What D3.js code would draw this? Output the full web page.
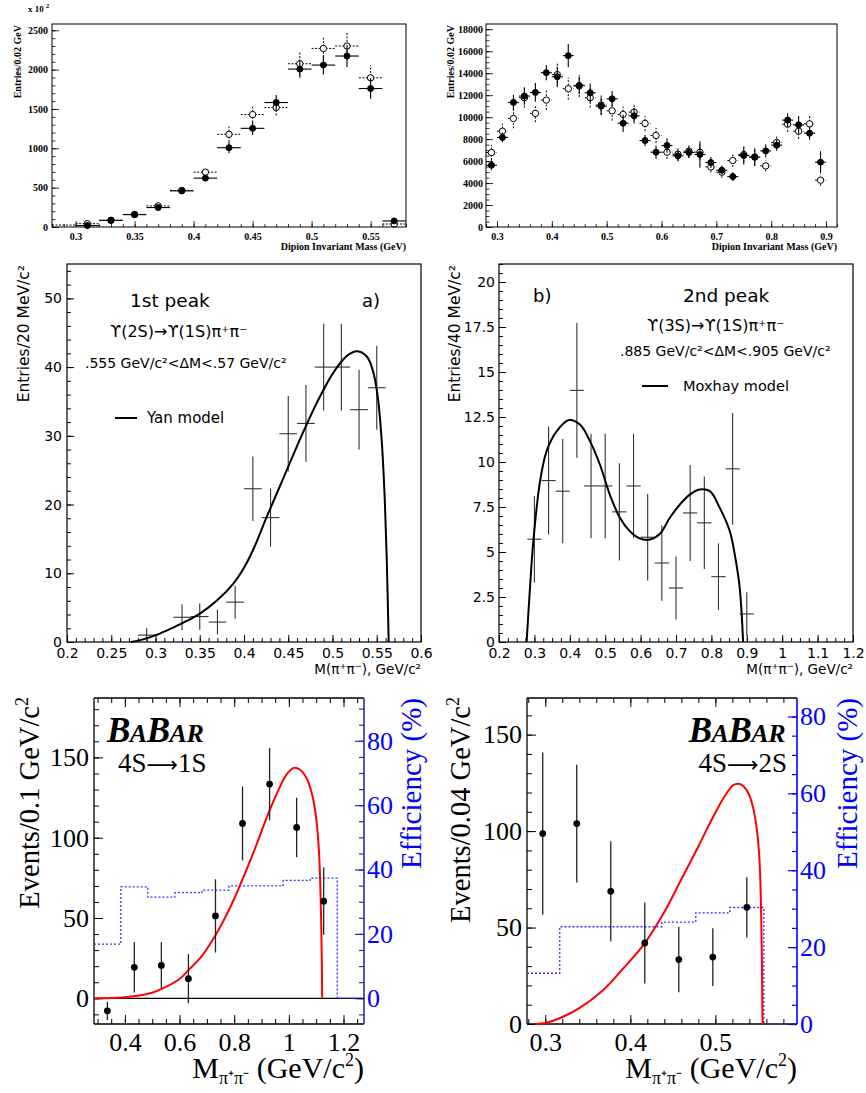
<!DOCTYPE html>
<html><head><meta charset="utf-8">
<script src="https://cdn.jsdelivr.net/npm/d3@7"></script>
<style>html,body{margin:0;padding:0;background:#fff}svg{display:block}</style>
</head><body>
<svg id="chart" width="866" height="1093" xmlns="http://www.w3.org/2000/svg"></svg>
<script>
// ================= DATA =================
// Top-left: dipion invariant mass (x10^2 entries / 0.02 GeV)
const p1Mass      = [0.29,0.31,0.33,0.35,0.37,0.39,0.41,0.43,0.45,0.47,0.49,0.51,0.53,0.55,0.57];
const p1Solid     = [null,18,85,157,247,459,621,1008,1254,1582,2007,2058,2173,1760,77];
const p1SolidErr  = [0,8,12,15,20,25,35,70,85,95,110,120,140,130,15];
const p1Open      = [25,42,85,160,268,465,697,1178,1429,1518,2075,2270,2300,1896,38];
const p1OpenErr   = [0,10,14,18,22,28,45,100,100,100,150,155,170,160,15];
const p1YTicks = [0,500,1000,1500,2000,2500];
const p1YLabels = ["0","500","1000","1500","2000","2500"];
const p1XTicks = [0.3,0.35,0.4,0.45,0.5,0.55];
const p1XLabels = ["0.3","0.35","0.4","0.45","0.5","0.55"];

// Top-right: dipion invariant mass (entries / 0.02 GeV)
const p2Mass = [0.29,0.31,0.33,0.35,0.37,0.39,0.41,0.43,0.45,0.47,0.49,0.51,0.53,0.55,0.57,0.59,0.61,0.63,0.65,0.67,0.69,0.71,0.73,0.75,0.77,0.79,0.81,0.83,0.85,0.87,0.89];
const p2Solid = [5620,8150,11340,11920,12250,14050,13680,15600,12890,12220,11000,11670,9450,10120,7870,6810,7420,6480,6780,6600,5870,5170,4590,6500,6350,6930,7450,9730,9300,8540,5900];
const p2SolidErr = [450,450,700,800,850,700,900,1050,800,850,800,700,800,700,500,600,650,500,500,1200,500,400,400,800,800,600,500,600,800,600,1000];
const p2Open = [6780,8720,9880,11770,10340,11550,13870,12590,12830,11770,11100,10580,10250,10460,9430,8330,6810,6630,6900,6810,5470,4990,6050,6600,6380,5560,7690,9360,8720,9390,4260];
const p2OpenErr = [700,700,900,900,800,900,1100,1000,1000,900,900,900,700,800,700,700,600,600,600,700,500,500,600,700,800,500,600,700,700,750,500];
const p2YTicks = [0,2000,4000,6000,8000,10000,12000,14000,16000,18000];
const p2YLabels = ["0","2000","4000","6000","8000","10000","12000","14000","16000","18000"];
const p2XTicks = [0.3,0.4,0.5,0.6,0.7,0.8,0.9];
const p2XLabels = ["0.3","0.4","0.5","0.6","0.7","0.8","0.9"];

// Middle-left: 1st peak, Yan model
const p3Mass    = [0.29,0.33,0.35,0.37,0.39,0.41,0.43,0.45,0.47,0.49,0.51,0.53,0.55];
const p3Entries = [1.0,3.6,3.7,2.9,5.8,22.3,18.1,30.3,31.8,40.0,40.0,33.8,37.0];
const p3Err     = [1.0,1.9,1.9,1.8,2.4,4.7,4.25,5.5,5.6,6.3,6.3,5.8,6.1];
const p3CurveX  = [0.272,0.285,0.302,0.32,0.336,0.351,0.37,0.388,0.40,0.411,0.426,0.445,0.464,0.483,0.501,0.516,0.528,0.539,0.546,0.551,0.5555,0.5588,0.5612,0.5635];
const p3CurveY  = [0,0.35,1.07,2.1,3.1,4.2,6.1,8.5,10.8,13.6,18.3,24.0,29.7,35.0,39.2,41.6,42.3,41.5,39.3,35.8,29.5,21.5,12.5,0];
const p3XTicks = [0.2,0.25,0.3,0.35,0.4,0.45,0.5,0.55,0.6];
const p3XLabels = ["0.2","0.25","0.3","0.35","0.4","0.45","0.5","0.55","0.6"];
const p3YTicks = [0,10,20,30,40,50];
const p3YLabels = ["0","10","20","30","40","50"];

// Middle-right: 2nd peak, Moxhay model
const p4Mass    = [0.30,0.34,0.38,0.42,0.46,0.50,0.54,0.58,0.62,0.66,0.70,0.74,0.78,0.82,0.86,0.90];
const p4Entries = [5.71,8.97,8.38,13.98,8.67,8.67,7.23,8.67,5.82,4.39,3.0,7.17,6.62,3.63,9.62,1.56];
const p4Err     = [2.4,3.0,2.9,3.75,2.9,2.9,2.7,2.9,2.4,2.1,1.75,2.67,2.57,1.85,3.1,1.2];
const p4CurveX  = [0.278,0.2875,0.297,0.3157,0.3345,0.3627,0.3976,0.4286,0.457,0.485,0.513,0.5415,0.5697,0.598,0.626,0.654,0.6826,0.711,0.739,0.767,0.7955,0.8237,0.852,0.866,0.880,0.8896];
const p4CurveY  = [0,3.0,5.6,8.9,10.6,11.7,12.33,12.08,11.16,9.86,8.19,6.9,6.15,5.75,5.69,6.0,6.9,7.64,8.19,8.47,8.38,7.45,6.15,4.86,3.0,0];
const p4XTicks = [0.2,0.3,0.4,0.5,0.6,0.7,0.8,0.9,1.0,1.1,1.2];
const p4XLabels = ["0.2","0.3","0.4","0.5","0.6","0.7","0.8","0.9","1","1.1","1.2"];
const p4YTicks = [0,2.5,5,7.5,10,12.5,15,17.5,20];
const p4YLabels = ["0","2.5","5","7.5","10","12.5","15","17.5","20"];

// Bottom-left: BaBar 4S->1S
const p5Mass   = [0.336,0.4345,0.5335,0.6325,0.7315,0.8305,0.9295,1.0285,1.1275];
const p5Events = [-7.8,19.3,20.5,12.2,51.3,108.9,133.4,106.4,60.5];
const p5Err    = [5.7,15.7,14.5,15.3,22.8,23,22.5,18.5,21];
const p5EffEdges = [0.287,0.385,0.484,0.583,0.682,0.781,0.880,0.979,1.078,1.177,1.275];
const p5Eff      = [16.8,34.6,31.4,32.8,33.6,34.9,34.9,36.6,37.3,0,0];
const p5CurveX = [0.287,0.35,0.44,0.50,0.537,0.60,0.635,0.68,0.72,0.76,0.80,0.84,0.88,0.92,0.96,0.99,1.018,1.04,1.065,1.085,1.10,1.11,1.116,1.12,1.122];
const p5CurveY = [0,0.2,1.5,3.5,6.0,12,18,26,36,48,62,78,95,113,129,139,143.5,142.5,137,127,112,92,65,30,0];
const p5XTicks = [0.4,0.6,0.8,1.0,1.2];
const p5XLabels = ["0.4","0.6","0.8","1","1.2"];
const p5YTicks = [0,50,100,150];
const p5YLabels = ["0","50","100","150"];
const p5EffTicks = [0,20,40,60,80];
const p5EffLabels = ["0","20","40","60","80"];

// Bottom-right: BaBar 4S->2S
const p6Mass   = [0.297,0.337,0.377,0.417,0.457,0.497,0.537];
const p6Events = [98.7,103.9,68.8,42.0,33.4,34.7,60.5];
const p6Err    = [42,30.5,26,21,17,15,15.6];
const p6EffEdges = [0.2785,0.317,0.357,0.397,0.437,0.477,0.517,0.557,0.596];
const p6Eff      = [13.2,25.3,25.3,25.3,26.5,28.9,30.3,0,0];
const p6CurveX = [0.288,0.30,0.3176,0.34,0.3686,0.39,0.4157,0.44,0.46,0.48,0.49,0.50,0.508,0.515,0.521,0.527,0.533,0.539,0.545,0.549,0.552,0.554,0.5555];
const p6CurveY = [0,0.5,3.1,8.2,17.8,28,41.1,58,75,92,101,109.5,116,120.8,123.8,124.5,123.3,119.5,111,100,84,54,0];
const p6XTicks = [0.3,0.4,0.5];
const p6XLabels = ["0.3","0.4","0.5"];
const p6YTicks = [0,50,100,150];
const p6YLabels = ["0","50","100","150"];
const p6EffTicks = [0,20,40,60,80];
const p6EffLabels = ["0","20","40","60","80"];

// ================= DRAWING =================
const SERIF = "'Liberation Serif','Times New Roman',serif";
const SANS = "'DejaVu Sans',sans-serif";
const svg = d3.select("#chart");
svg.append("rect").attr("width",866).attr("height",1093).attr("fill","#fff");
const SMOOTH = d3.curveCatmullRom.alpha(0.5);

const AX = {bottom:d3.axisBottom, left:d3.axisLeft, right:d3.axisRight, top:d3.axisTop};
function ticks(g, side, scale, tx, ty, major, minor, majLen, minLen, pad, labels, font, color, lineColor, sw){
  if (minor && minor.length){
    const m = g.append("g").attr("transform",`translate(${tx},${ty})`)
      .call(AX[side](scale).tickValues(minor).tickFormat("").tickSize(-minLen));
    m.select(".domain").remove();
    m.selectAll("line").attr("stroke", lineColor).attr("stroke-width", sw);
  }
  const a = g.append("g").attr("transform",`translate(${tx},${ty})`)
    .call(AX[side](scale).tickValues(major).tickFormat(labels ? (d,i)=>labels[i] : "").tickSize(-majLen).tickPadding(pad));
  a.select(".domain").remove();
  a.selectAll("line").attr("stroke", lineColor).attr("stroke-width", sw);
  if (font){
    a.attr("font-family", font.family).attr("font-size", font.size).attr("font-weight", font.weight||"normal");
  }
  a.selectAll("text").attr("fill", color);
  return a;
}
function frame(g, x0, y0, x1, y1, sw){
  g.append("rect").attr("x",x0).attr("y",y0).attr("width",x1-x0).attr("height",y1-y0)
    .attr("fill","none").attr("stroke","#000").attr("stroke-width",sw||1);
}
function rich(g, x, y, parts, attrs){
  const t = g.append("text").attr("x",x).attr("y",y);
  Object.entries(attrs||{}).forEach(([k,v])=>t.attr(k,v));
  parts.forEach(p=>{
    const s = t.append("tspan").text(p.t);
    if (p.size) s.attr("font-size",p.size);
    if (p.dy) s.attr("dy",p.dy);
    if (p.dx) s.attr("dx",p.dx);
    if (p.style) s.attr("font-style",p.style);
    if (p.weight) s.attr("font-weight",p.weight);
    if (p.fill) s.attr("fill",p.fill);
    if (p.family) s.attr("font-family",p.family);
  });
  return t;
}
function histPts(g, x, y, xs, ys, errs, halfW, opt){
  const data = xs.map((m,i)=>({m, v:ys[i], e:errs[i]})).filter(d=>d.v!==null);
  const gg = g.append("g").attr("stroke","#000").attr("stroke-width",opt.sw||1)
    .attr("stroke-dasharray", opt.dash||null);
  gg.selectAll(".h").data(data).join("line")
    .attr("x1",d=>x(d.m-halfW)).attr("x2",d=>x(d.m+halfW))
    .attr("y1",d=>y(d.v)).attr("y2",d=>y(d.v));
  gg.selectAll(".v").data(data.filter(d=>d.e>0)).join("line")
    .attr("x1",d=>x(d.m)).attr("x2",d=>x(d.m))
    .attr("y1",d=>y(Math.max(0,d.v-d.e))).attr("y2",d=>y(d.v+d.e));
  if (opt.marker){
    g.append("g").selectAll("circle").data(data.filter(d=>d.e>0)).join("circle")
      .attr("cx",d=>x(d.m)).attr("cy",d=>y(d.v)).attr("r",opt.r)
      .attr("fill",opt.marker==="open"?"#fff":"#000").attr("stroke","#000").attr("stroke-width",1);
  }
}

// ---------- Panel 1 ----------
{
  const g = svg.append("g");
  const X0=52, X1=406, Y0=24, Y1=227;
  const x = d3.scaleLinear().domain([0.28,0.58]).range([X0,X1]);
  const y = d3.scaleLinear().domain([0,2580]).range([Y1,Y0]);
  const f = {family:SERIF,size:10,weight:"bold"};
  ticks(g,"left",y,X0,0,p1YTicks,d3.range(0,2580,100),7,3.5,4,p1YLabels,f,"#000","#000",0.8);
  ticks(g,"bottom",x,0,Y1,p1XTicks,d3.range(0.28,0.581,0.01),6,3,6,p1XLabels,f,"#000","#000",0.8);
  histPts(g,x,y,p1Mass,p1Open,p1OpenErr,0.01,{dash:"2,1.5",marker:"open",r:3.2,sw:1});
  histPts(g,x,y,p1Mass,p1Solid,p1SolidErr,0.01,{marker:"filled",r:3,sw:1.1});
  frame(g,X0,Y0,X1,Y1,1);
  rich(g,28,12,[{t:"x 10"},{t:"2",size:7,dy:-4,dx:2}],{"font-family":SERIF,"font-size":9,"font-weight":"bold"});
  g.append("text").attr("transform",`translate(21,${Y0+1}) rotate(-90)`).attr("text-anchor","end")
    .attr("font-family",SERIF).attr("font-size",10).attr("font-weight","bold").text("Entries/0.02 GeV");
  g.append("text").attr("x",X1).attr("y",250).attr("text-anchor","end")
    .attr("font-family",SERIF).attr("font-size",10).attr("font-weight","bold").text("Dipion Invariant Mass (GeV)");
}

// ---------- Panel 2 ----------
{
  const g = svg.append("g");
  const X0=486, X1=837, Y0=24, Y1=227;
  const x = d3.scaleLinear().domain([0.28,0.92]).range([X0,X1]);
  const y = d3.scaleLinear().domain([0,18480]).range([Y1,Y0]);
  const f = {family:SERIF,size:10,weight:"bold"};
  ticks(g,"left",y,X0,0,p2YTicks,d3.range(0,18480,500),7,3.5,3,p2YLabels,f,"#000","#000",0.8);
  ticks(g,"bottom",x,0,Y1,p2XTicks,d3.range(0.28,0.921,0.02),6,3,6,p2XLabels,f,"#000","#000",0.8);
  histPts(g,x,y,p2Mass,p2Open,p2OpenErr,0.01,{dash:"2,1.5",marker:"open",r:3.2,sw:1});
  histPts(g,x,y,p2Mass,p2Solid,p2SolidErr,0.01,{marker:"filled",r:3,sw:1.1});
  frame(g,X0,Y0,X1,Y1,1);
  g.append("text").attr("transform",`translate(454,${Y0+1}) rotate(-90)`).attr("text-anchor","end")
    .attr("font-family",SERIF).attr("font-size",10).attr("font-weight","bold").text("Entries/0.02 GeV");
  g.append("text").attr("x",X1).attr("y",250).attr("text-anchor","end")
    .attr("font-family",SERIF).attr("font-size",10).attr("font-weight","bold").text("Dipion Invariant Mass (GeV)");
}

function crosses(g, x, y, xs, ys, errs, halfW){
  const data = xs.map((m,i)=>({m, v:ys[i], e:errs[i]}));
  const gg = g.append("g").attr("stroke","#333").attr("stroke-width",1.1);
  gg.selectAll(".h").data(data).join("line")
    .attr("x1",d=>x(d.m-halfW)).attr("x2",d=>x(d.m+halfW)).attr("y1",d=>y(d.v)).attr("y2",d=>y(d.v));
  gg.selectAll(".v").data(data).join("line")
    .attr("x1",d=>x(d.m)).attr("x2",d=>x(d.m)).attr("y1",d=>y(Math.max(0,d.v-d.e))).attr("y2",d=>y(d.v+d.e));
}

// ---------- Panel 3 ----------
{
  const g = svg.append("g");
  const X0=67, X1=421, Y0=264, Y1=642;
  const x = d3.scaleLinear().domain([0.2,0.6]).range([X0,X1]);
  const y = d3.scaleLinear().domain([0,55]).range([Y1,Y0]);
  const f = {family:SANS,size:14};
  ticks(g,"left",y,X0,0,p3YTicks,d3.range(0,55.01,2),7,4,5,p3YLabels,f,"#000","#000",1);
  ticks(g,"bottom",x,0,Y1,p3XTicks,d3.range(0.2,0.6001,0.01),7,4,6,p3XLabels,f,"#000","#000",1);
  frame(g,X0,Y0,X1,Y1,1.2);
  crosses(g,x,y,p3Mass,p3Entries,p3Err,0.01);
  const line = d3.line().x((d,i)=>x(p3CurveX[i])).y((d,i)=>y(p3CurveY[i])).curve(SMOOTH);
  g.append("path").attr("d",line(p3CurveX)).attr("fill","none").attr("stroke","#000").attr("stroke-width",2);
  const tf = {"font-family":SANS,"fill":"#000"};
  rich(g,130,307,[{t:"1st peak"}],{...tf,"font-size":18.5});
  rich(g,362,307,[{t:"a)"}],{...tf,"font-size":18});
  rich(g,110,337,[{t:"ϒ(2S)→ϒ(1S)π⁺π⁻"}],{...tf,"font-size":16});
  rich(g,85,368,[{t:".555 GeV/c²<ΔM<.57 GeV/c²"}],{...tf,"font-size":14});
  g.append("line").attr("x1",115).attr("x2",137).attr("y1",418).attr("y2",418).attr("stroke","#000").attr("stroke-width",2);
  rich(g,147,423,[{t:"Yan model"}],{...tf,"font-size":15});
  g.append("text").attr("transform",`translate(29,${Y0+1}) rotate(-90)`).attr("text-anchor","end")
    .attr("font-family",SANS).attr("font-size",15.5).text("Entries/20 MeV/c²");
  g.append("text").attr("x",X1).attr("y",674).attr("text-anchor","end")
    .attr("font-family",SANS).attr("font-size",13.5).text("M(π⁺π⁻), GeV/c²");
}

// ---------- Panel 4 ----------
{
  const g = svg.append("g");
  const X0=499, X1=853, Y0=264, Y1=642;
  const x = d3.scaleLinear().domain([0.2,1.2]).range([X0,X1]);
  const y = d3.scaleLinear().domain([0,21]).range([Y1,Y0]);
  const f = {family:SANS,size:14};
  ticks(g,"left",y,X0,0,p4YTicks,d3.range(0,21.01,0.5),7,4,4,p4YLabels,f,"#000","#000",1);
  ticks(g,"bottom",x,0,Y1,p4XTicks,d3.range(0.2,1.2001,0.025),7,4,6,p4XLabels,f,"#000","#000",1);
  frame(g,X0,Y0,X1,Y1,1.2);
  crosses(g,x,y,p4Mass,p4Entries,p4Err,0.02);
  const line = d3.line().x((d,i)=>x(p4CurveX[i])).y((d,i)=>y(p4CurveY[i])).curve(SMOOTH);
  g.append("path").attr("d",line(p4CurveX)).attr("fill","none").attr("stroke","#000").attr("stroke-width",2);
  const tf = {"font-family":SANS,"fill":"#000"};
  rich(g,533,302,[{t:"b)"}],{...tf,"font-size":18});
  rich(g,683,302,[{t:"2nd peak"}],{...tf,"font-size":18.5});
  rich(g,647,331,[{t:"ϒ(3S)→ϒ(1S)π⁺π⁻"}],{...tf,"font-size":16});
  rich(g,620,356,[{t:".885 GeV/c²<ΔM<.905 GeV/c²"}],{...tf,"font-size":14});
  g.append("line").attr("x1",642).attr("x2",668).attr("y1",386).attr("y2",386).attr("stroke","#000").attr("stroke-width",2);
  rich(g,683,391,[{t:"Moxhay model"}],{...tf,"font-size":14.5});
  g.append("text").attr("transform",`translate(460,${Y0+1}) rotate(-90)`).attr("text-anchor","end")
    .attr("font-family",SANS).attr("font-size",15.5).text("Entries/40 MeV/c²");
  g.append("text").attr("x",X1).attr("y",674).attr("text-anchor","end")
    .attr("font-family",SANS).attr("font-size",13.5).text("M(π⁺π⁻), GeV/c²");
}

// ---------- BaBar panels ----------
function babarPanel(cfg){
  const g = svg.append("g");
  const {X0,X1,Y0,Y1} = cfg;
  const x = d3.scaleLinear().domain(cfg.xDom).range([X0,X1]);
  const y = d3.scaleLinear().domain(cfg.yDom).range([Y1,Y0]);
  const ye = d3.scaleLinear().domain(cfg.effDom).range([Y1,Y0]);
  const f = {family:SERIF,size:26};
  const BLUE = "#0000ff";
  ticks(g,"left",y,X0,0,cfg.yTicks,cfg.yMinor,9,5,5,cfg.yLabels,f,"#000","#000",1);
  ticks(g,"bottom",x,0,Y1,cfg.xTicks,cfg.xMinor,9,5,9,cfg.xLabels,f,"#000","#000",1);
  ticks(g,"top",x,0,Y0,cfg.xTicks,cfg.xMinor,9,5,0,null,null,"#000","#000",1);
  ticks(g,"right",ye,X1,0,cfg.effTicks,cfg.effMinor,9,5,3,cfg.effLabels,f,BLUE,cfg.rightColor,1.2);
  g.append("line").attr("x1",X0).attr("x2",X1).attr("y1",Y0).attr("y2",Y0).attr("stroke","#000").attr("stroke-width",1.3);
  g.append("line").attr("x1",X0).attr("x2",X1).attr("y1",Y1).attr("y2",Y1).attr("stroke","#000").attr("stroke-width",1.3);
  g.append("line").attr("x1",X0).attr("x2",X0).attr("y1",Y0).attr("y2",Y1).attr("stroke","#000").attr("stroke-width",1.3);
  g.append("line").attr("x1",X1).attr("x2",X1).attr("y1",Y0).attr("y2",Y1).attr("stroke",cfg.rightColor).attr("stroke-width",1.6);
  if (cfg.zeroLine){
    g.append("line").attr("x1",X0).attr("x2",X1).attr("y1",y(0)).attr("y2",y(0)).attr("stroke","#000").attr("stroke-width",1.2);
  }
  const effLine = d3.line().x((d,i)=>x(cfg.effEdges[i])).y((d,i)=>ye(cfg.eff[i])).curve(d3.curveStepAfter);
  g.append("path").attr("d",effLine(cfg.effEdges)).attr("fill","none").attr("stroke","#3030ff")
    .attr("stroke-width",1.3).attr("stroke-dasharray","2,2");
  const cl = d3.line().x((d,i)=>x(cfg.cx[i])).y((d,i)=>y(cfg.cy[i])).curve(SMOOTH);
  g.append("path").attr("d",cl(cfg.cx)).attr("fill","none").attr("stroke","#ff0000").attr("stroke-width",2);
  const data = cfg.m.map((m,i)=>({m, v:cfg.v[i], e:cfg.e[i]}));
  g.append("g").selectAll("line").data(data).join("line")
    .attr("x1",d=>x(d.m)).attr("x2",d=>x(d.m)).attr("y1",d=>y(d.v-d.e)).attr("y2",d=>y(d.v+d.e))
    .attr("stroke","#222").attr("stroke-width",1.3);
  g.append("g").selectAll("circle").data(data).join("circle")
    .attr("cx",d=>x(d.m)).attr("cy",d=>y(d.v)).attr("r",3.4).attr("fill","#000");
  rich(g,cfg.logoX,742,[{t:"B",size:35},{t:"A",size:26},{t:"B",size:35},{t:"AR",size:26}],
    {"font-family":SERIF,"font-style":"italic","font-weight":"bold","text-anchor":cfg.logoAnchor,"letter-spacing":"-0.5"});
  rich(g,cfg.decX,772,[{t:"4S"},{t:"⟶",family:"'DejaVu Sans',sans-serif",size:22},{t:cfg.decay}],
    {"font-family":SERIF,"font-size":27,"text-anchor":cfg.logoAnchor});
  rich(g,0,0,[{t:cfg.yTitle},{t:"2",size:18,dy:-11}],
    {"font-family":SERIF,"font-size":28.5,"text-anchor":"end","transform":`translate(${cfg.yTitleX},${Y0-1}) rotate(-90)`});
  g.append("text").attr("transform",`translate(${cfg.effTitleX},${Y0}) rotate(-90)`).attr("text-anchor","end")
    .attr("font-family",SERIF).attr("font-size",29).attr("fill",BLUE).text("Efficiency (%)");
  rich(g,X1,1078,[{t:"M",size:30},{t:"π⁺π⁻",size:18,dy:6},{t:" (GeV/c",size:30,dy:-6},{t:"2",size:18,dy:-12},{t:")",size:30,dy:12}],
    {"font-family":SERIF,"text-anchor":"end"});
}

babarPanel({X0:94,X1:364,Y0:698,Y1:1024,
  xDom:[0.287,1.275], yDom:[-16,187], effDom:[-8,93.3],
  xTicks:p5XTicks, xLabels:p5XLabels, xMinor:d3.range(0.3,1.2751,0.05),
  yTicks:p5YTicks, yLabels:p5YLabels, yMinor:d3.range(-10,187,10),
  effTicks:p5EffTicks, effLabels:p5EffLabels, effMinor:d3.range(-5,93.3,5),
  rightColor:"#2a2ab4", zeroLine:true,
  effEdges:p5EffEdges, eff:p5Eff, cx:p5CurveX, cy:p5CurveY,
  m:p5Mass, v:p5Events, e:p5Err,
  logoX:107, logoAnchor:"start", decX:118, decay:"1S",
  yTitle:"Events/0.1 GeV/c", yTitleX:39, effTitleX:421});

babarPanel({X0:527,X1:797,Y0:698,Y1:1024,
  xDom:[0.2785,0.596], yDom:[0,169], effDom:[0,84.8],
  xTicks:p6XTicks, xLabels:p6XLabels, xMinor:d3.range(0.28,0.5961,0.02),
  yTicks:p6YTicks, yLabels:p6YLabels, yMinor:d3.range(0,169,10),
  effTicks:p6EffTicks, effLabels:p6EffLabels, effMinor:d3.range(0,84.8,5),
  rightColor:"#0000ff", zeroLine:false,
  effEdges:p6EffEdges, eff:p6Eff, cx:p6CurveX, cy:p6CurveY,
  m:p6Mass, v:p6Events, e:p6Err,
  logoX:785, logoAnchor:"end", decX:787, decay:"2S",
  yTitle:"Events/0.04 GeV/c", yTitleX:470, effTitleX:857});
</script>
</body></html>
